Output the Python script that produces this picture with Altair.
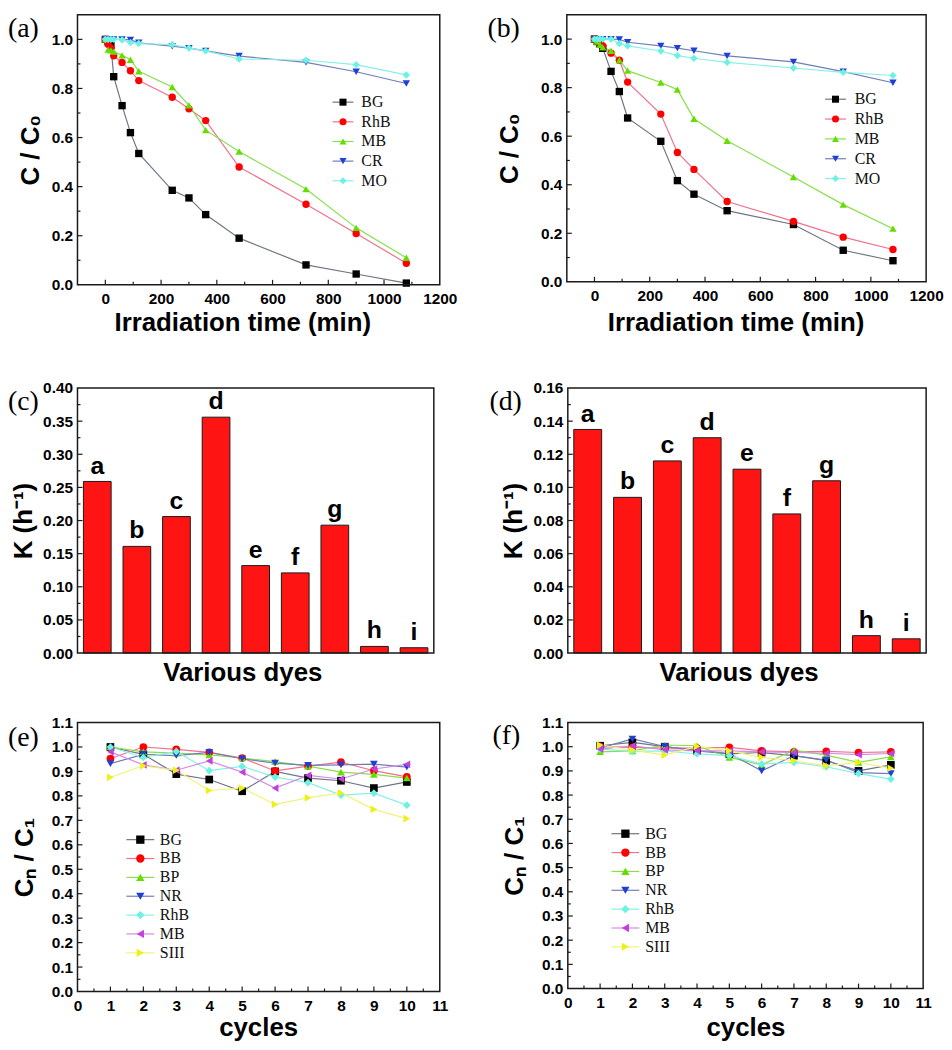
import altair as alt
import pandas as pd

SANS = "Liberation Sans, Arial, Helvetica, sans-serif"
SERIF = "Liberation Serif, Times New Roman, serif"

# ---------------- data: panels (a) and (b) ----------------
time_min = [0, 10, 20, 30, 60, 90, 120, 240, 300, 360, 480, 720, 900, 1080]
dyes_ab = ["BG", "RhB", "MB", "CR", "MO"]

a_BG = [1.000, 0.990, 0.975, 0.848, 0.730, 0.620, 0.535, 0.385, 0.354, 0.286, 0.190, 0.081, 0.044, 0.007]
a_RhB = [1.000, 0.980, 0.965, 0.933, 0.906, 0.872, 0.832, 0.764, 0.717, 0.669, 0.480, 0.328, 0.209, 0.088]
a_MB = [1.000, 0.958, 0.955, 0.950, 0.935, 0.917, 0.870, 0.806, 0.731, 0.630, 0.543, 0.390, 0.232, 0.110]
a_CR = [1.000, 1.000, 1.000, 1.000, 1.000, 0.998, 0.986, 0.972, 0.964, 0.953, 0.932, 0.906, 0.868, 0.820]
a_MO = [1.000, 1.000, 1.000, 1.000, 0.998, 0.987, 0.983, 0.979, 0.965, 0.953, 0.920, 0.915, 0.897, 0.855]

b_BG = [1.000, 0.990, 0.980, 0.962, 0.867, 0.784, 0.675, 0.579, 0.417, 0.361, 0.293, 0.236, 0.130, 0.087]
b_RhB = [1.000, 0.995, 0.985, 0.972, 0.942, 0.913, 0.823, 0.691, 0.533, 0.463, 0.331, 0.249, 0.184, 0.133]
b_MB = [1.000, 0.990, 0.976, 0.966, 0.952, 0.913, 0.870, 0.821, 0.792, 0.672, 0.581, 0.432, 0.318, 0.219]
b_CR = [1.000, 1.000, 1.000, 1.000, 1.000, 0.999, 0.987, 0.972, 0.963, 0.952, 0.931, 0.906, 0.866, 0.820]
b_MO = [1.000, 1.000, 1.000, 1.000, 1.000, 0.982, 0.972, 0.951, 0.932, 0.921, 0.904, 0.881, 0.863, 0.850]

# ---------------- data: panels (c) and (d) ----------------
bar_letters = ["a", "b", "c", "d", "e", "f", "g", "h", "i"]
k_c = [0.259, 0.161, 0.206, 0.356, 0.132, 0.121, 0.193, 0.010, 0.008]
k_d = [0.135, 0.094, 0.116, 0.130, 0.111, 0.084, 0.104, 0.0105, 0.0086]

# ---------------- data: panels (e) and (f) ----------------
cycles = [1, 2, 3, 4, 5, 6, 7, 8, 9, 10]
dyes_ef = ["BG", "BB", "BP", "NR", "RhB", "MB", "SIII"]

e_BG = [1.000, 0.970, 0.889, 0.867, 0.819, 0.900, 0.873, 0.862, 0.832, 0.857]
e_BB = [0.953, 1.000, 0.990, 0.978, 0.955, 0.902, 0.922, 0.938, 0.903, 0.878]
e_BP = [1.000, 0.980, 0.975, 0.968, 0.955, 0.940, 0.922, 0.897, 0.888, 0.873]
e_NR = [0.932, 0.970, 0.965, 0.978, 0.952, 0.934, 0.925, 0.927, 0.930, 0.918]
e_RhB = [1.000, 0.957, 0.982, 0.903, 0.921, 0.877, 0.854, 0.803, 0.811, 0.762]
e_MB = [0.980, 0.927, 0.905, 0.943, 0.897, 0.832, 0.884, 0.869, 0.910, 0.929]
e_SIII = [0.876, 0.923, 0.905, 0.822, 0.832, 0.765, 0.792, 0.812, 0.745, 0.707]

f_BG = [1.004, 1.018, 1.000, 0.983, 0.970, 0.976, 0.963, 0.942, 0.900, 0.925]
f_BB = [1.000, 0.997, 0.994, 0.994, 0.997, 0.983, 0.979, 0.981, 0.976, 0.979]
f_BP = [0.979, 0.983, 1.007, 1.004, 0.956, 0.925, 0.986, 0.965, 0.935, 0.958]
f_NR = [0.994, 1.032, 1.001, 0.986, 0.972, 0.900, 0.963, 0.945, 0.893, 0.889]
f_RhB = [0.990, 0.981, 0.983, 0.970, 0.963, 0.928, 0.935, 0.917, 0.889, 0.866]
f_MB = [0.990, 1.004, 0.987, 0.983, 0.983, 0.979, 0.976, 0.973, 0.967, 0.972]
f_SIII = [1.007, 0.986, 0.965, 1.001, 0.983, 0.956, 0.942, 0.921, 0.935, 0.911]

# ---------------- tick labels / tick positions ----------------
x_time_labels = [0, 200, 400, 600, 800, 1000, 1200]
x_time_major = [0, 200, 400, 600, 800, 1000]
x_time_minor = [100, 300, 500, 700, 900, 1100]
y_ab_labels = [0.0, 0.2, 0.4, 0.6, 0.8, 1.0]
y_ab_major = [0.2, 0.4, 0.6, 0.8, 1.0]
y_ab_minor = [0.1, 0.3, 0.5, 0.7, 0.9]
y_c_labels = [0.0, 0.05, 0.10, 0.15, 0.20, 0.25, 0.30, 0.35, 0.40]
y_c_major = [0.05, 0.10, 0.15, 0.20, 0.25, 0.30, 0.35]
y_c_minor = [0.025, 0.075, 0.125, 0.175, 0.225, 0.275, 0.325, 0.375]
y_d_labels = [0.0, 0.02, 0.04, 0.06, 0.08, 0.10, 0.12, 0.14, 0.16]
y_d_major = [0.02, 0.04, 0.06, 0.08, 0.10, 0.12, 0.14]
y_d_minor = [0.01, 0.03, 0.05, 0.07, 0.09, 0.11, 0.13, 0.15]
x_cyc_labels = [0, 1, 2, 3, 4, 5, 6, 7, 8, 9, 10, 11]
x_cyc_major = [1, 2, 3, 4, 5, 6, 7, 8, 9, 10]
x_cyc_minor = [0.5, 1.5, 2.5, 3.5, 4.5, 5.5, 6.5, 7.5, 8.5, 9.5, 10.5]
y_ef_labels = [0.0, 0.1, 0.2, 0.3, 0.4, 0.5, 0.6, 0.7, 0.8, 0.9, 1.0, 1.1]
y_ef_major = [0.1, 0.2, 0.3, 0.4, 0.5, 0.6, 0.7, 0.8, 0.9, 1.0]
y_ef_minor = [0.05, 0.15, 0.25, 0.35, 0.45, 0.55, 0.65, 0.75, 0.85, 0.95, 1.05]

# ---------------- styles ----------------
ab_shapes = ["square", "circle", "triangle-up", "triangle-down", "diamond"]
ab_marker = ["#000000", "#ff0000", "#66dd00", "#1f3fd6", "#6cf2e2"]
ab_line = ["#6f7585", "#f2708c", "#86e04a", "#6f7fb8", "#86f0e8"]
ef_shapes = ["square", "circle", "triangle-up", "triangle-down", "diamond", "triangle-left", "triangle-right"]
ef_marker = ["#000000", "#ff0000", "#66dd00", "#1f3fd6", "#6cf2e2", "#c23fe0", "#eef01a"]
ef_line = ["#6f7585", "#f2708c", "#86e04a", "#6f7fb8", "#86f0e8", "#d58ae6", "#f2f278"]
INK = "#1a1a1a"
FRAME_W = 1.5
MAJOR_T = 5
MINOR_T = 3
TICK_W = 1.2
TITLE_FS = 26

# decoration (ticks / frame) colour goes through its own one-entry colour scale
ink_color = alt.Color("k:N", scale=alt.Scale(domain=["ink"], range=[INK]), legend=None)


def deco_df(vals):
    return pd.DataFrame({"p": vals, "k": ["ink"] * len(vals)})


def xtick_layer(vals, xs, H, length):
    # inward tick: stroked path glyph going up from the bottom edge
    return alt.Chart(deco_df(vals)).mark_point(
        shape="M0,0V-1", size=(2 * length) ** 2, filled=False, strokeWidth=TICK_W, opacity=1
    ).encode(x=alt.X("p:Q", scale=xs, axis=None), y=alt.value(H), color=ink_color)


def ytick_layer(vals, ys, length):
    # inward tick: stroked path glyph going right from the left edge
    return alt.Chart(deco_df(vals)).mark_point(
        shape="M0,0H1", size=(2 * length) ** 2, filled=False, strokeWidth=TICK_W, opacity=1
    ).encode(y=alt.Y("p:Q", scale=ys, axis=None), x=alt.value(0), color=ink_color)


def frame_layer(W, H):
    # plot frame: one path glyph of unit scale (size 4 -> scale factor 1), anchored at the bottom-left corner
    return alt.Chart(pd.DataFrame({"k": ["ink"]})).mark_point(
        shape=f"M0,0V{-H}H{W}V0Z", size=4, filled=False, strokeWidth=FRAME_W, opacity=1
    ).encode(x=alt.value(0), y=alt.value(H), color=ink_color)


def tag_layer(tag, tx, ty):
    return alt.Chart(pd.DataFrame({"tag": [tag]})).mark_text(
        align="left", baseline="top", font=SERIF, fontSize=28, color="#000"
    ).encode(x=alt.value(tx), y=alt.value(ty), text="tag:N")


def line_panel(xvals, series, lists, shapes, mcol, lcol, W, H, xdom, xlab, xmaj, xmin, xfmt,
               ydom, ylab, ymaj, ymin, yfmt, xtitle, ytitle, xtx, xty, ytx,
               leg_cx, leg_half, leg_tx, leg_y0, leg_step, leg_msize, tag, tagx, tagy, psize):
    rows = []
    for s, vals in zip(series, lists):
        for xv, v in zip(xvals, vals):
            rows.append({"x": xv, "v": v, "s": s})
    df = pd.DataFrame(rows)
    xs = alt.Scale(domain=xdom, nice=False, zero=False)
    ys = alt.Scale(domain=ydom, nice=False, zero=False)
    fill_scale = alt.Scale(domain=series, range=mcol)
    stroke_scale = alt.Scale(domain=series, range=lcol)
    shape_scale = alt.Scale(domain=series, range=shapes)

    x_lab_axis = alt.Axis(orient="bottom", values=xlab, format=xfmt, ticks=False, domain=False,
                          grid=False, labelPadding=7, labelFlush=False, labelOverlap=False,
                          title=xtitle, titleX=xtx, titleY=xty, titleBaseline="middle")
    y_lab_axis = alt.Axis(orient="left", values=ylab, format=yfmt, ticks=False, domain=False,
                          grid=False, labelPadding=5, labelOverlap=False,
                          title=ytitle, titleX=ytx, titleBaseline="middle")

    base = alt.Chart(df)
    lines = base.mark_line(strokeWidth=1.2).encode(
        x=alt.X("x:Q", scale=xs, axis=x_lab_axis),
        y=alt.Y("v:Q", scale=ys, axis=y_lab_axis),
        stroke=alt.Stroke("s:N", scale=stroke_scale, legend=None),
    )
    points = base.mark_point(filled=True, size=psize, opacity=1, strokeWidth=0).encode(
        x=alt.X("x:Q", scale=xs, axis=None),
        y=alt.Y("v:Q", scale=ys, axis=None),
        fill=alt.Fill("s:N", scale=fill_scale, legend=None),
        shape=alt.Shape("s:N", scale=shape_scale, legend=None),
    )

    # legend drawn with marks: rows placed by a point scale on the series names
    leg_df = pd.DataFrame({"s": series})
    ly = alt.Y("s:N", scale=alt.Scale(type="point", domain=series,
                                      range=[leg_y0, leg_y0 + leg_step * (len(series) - 1)], padding=0),
               axis=None)
    leg_line = alt.Chart(leg_df).mark_point(
        shape="M-1,0H1", size=(2 * leg_half) ** 2, filled=False, strokeWidth=1.2, opacity=1
    ).encode(x=alt.value(leg_cx), y=ly, stroke=alt.Stroke("s:N", scale=stroke_scale, legend=None))
    leg_mark = alt.Chart(leg_df).mark_point(filled=True, size=leg_msize, opacity=1, strokeWidth=0).encode(
        x=alt.value(leg_cx), y=ly,
        fill=alt.Fill("s:N", scale=fill_scale, legend=None),
        shape=alt.Shape("s:N", scale=shape_scale, legend=None),
    )
    leg_text = alt.Chart(leg_df).mark_text(
        align="left", baseline="middle", font=SERIF, fontSize=16, color="#111"
    ).encode(x=alt.value(leg_tx), y=ly, text="s:N")

    layers = [lines, points,
              xtick_layer(xmaj, xs, H, MAJOR_T), xtick_layer(xmin, xs, H, MINOR_T),
              ytick_layer(ymaj, ys, MAJOR_T), ytick_layer(ymin, ys, MINOR_T),
              frame_layer(W, H), leg_line, leg_mark, leg_text, tag_layer(tag, tagx, tagy)]
    return alt.layer(*layers).resolve_scale(y="independent").resolve_axis(
        x="independent", y="independent"
    ).properties(width=W, height=H)


def bar_panel(vals, W, H, ymax, ylab, ymaj, ymin, xtx, xty, ytx, tag, tagx, tagy):
    df = pd.DataFrame({"dye": bar_letters, "k": vals})
    xsc = alt.Scale(paddingInner=0.3, paddingOuter=0.15)
    ys = alt.Scale(domain=[0, ymax], nice=False, zero=True)
    base = alt.Chart(df)
    bars = base.mark_bar(fill="#ff1414", stroke=INK, strokeWidth=1).encode(
        x=alt.X("dye:N", sort=bar_letters, scale=xsc,
                axis=alt.Axis(labels=False, ticks=False, domain=False, grid=False, title="Various dyes",
                              titleX=xtx, titleY=xty, titleBaseline="middle")),
        y=alt.Y("k:Q", scale=ys,
                axis=alt.Axis(orient="left", values=ylab, format=".2f", ticks=False, domain=False,
                              grid=False, labelPadding=5, labelOverlap=False,
                              title="K (h⁻¹)", titleX=ytx, titleBaseline="middle")),
    )
    letters = base.mark_text(
        baseline="bottom", dy=-3, font=SANS, fontWeight="bold", fontSize=25, color="#000"
    ).encode(
        x=alt.X("dye:N", sort=bar_letters, scale=xsc, axis=None),
        y=alt.Y("k:Q", scale=ys, axis=None),
        text="dye:N",
    )
    return alt.layer(
        bars, letters, ytick_layer(ymaj, ys, MAJOR_T), ytick_layer(ymin, ys, MINOR_T),
        frame_layer(W, H), tag_layer(tag, tagx, tagy)
    ).resolve_axis(x="independent", y="independent").properties(width=W, height=H)


pa = line_panel(time_min, dyes_ab, [a_BG, a_RhB, a_MB, a_CR, a_MO], ab_shapes, ab_marker, ab_line,
                365, 272, [-100, 1200], x_time_labels, x_time_major, x_time_minor, "d",
                [0, 1.1], y_ab_labels, y_ab_major, y_ab_minor, ".1f",
                "Irradiation time (min)", "C / C₀", 166, 38, -47,
                267.5, 10.5, 286, 88, 19.8, 50, "(a)", -70, 0, 55)
pb = line_panel(time_min, dyes_ab, [b_BG, b_RhB, b_MB, b_CR, b_MO], ab_shapes, ab_marker, ab_line,
                362, 269, [-100, 1200], x_time_labels, x_time_major, x_time_minor, "d",
                [0, 1.1], y_ab_labels, y_ab_major, y_ab_minor, ".1f",
                "Irradiation time (min)", "C / C₀", 170, 41, -58,
                270.7, 10.5, 290, 85, 20, 50, "(b)", -80, 0, 55)
pc = bar_panel(k_c, 359, 267, 0.40, y_c_labels, y_c_major, y_c_minor, 166, 20, -54, "(c)", -70, 0)
pd_ = bar_panel(k_d, 361, 267, 0.16, y_d_labels, y_d_major, y_d_minor, 172, 20, -55, "(d)", -79, 0)
pe = line_panel(cycles, dyes_ef, [e_BG, e_BB, e_BP, e_NR, e_RhB, e_MB, e_SIII], ef_shapes, ef_marker, ef_line,
                365, 271, [0, 11], x_cyc_labels, x_cyc_major, x_cyc_minor, "d",
                [0, 1.1], y_ef_labels, y_ef_major, y_ef_minor, ".1f",
                "cycles", "Cₙ / C₁", 182, 36, -53,
                63.3, 14, 83, 118, 19, 70, "(e)", -70, 2, 60)
pf = line_panel(cycles, dyes_ef, [f_BG, f_BB, f_BP, f_NR, f_RhB, f_MB, f_SIII], ef_shapes, ef_marker, ef_line,
                358, 268, [0, 11], x_cyc_labels, x_cyc_major, x_cyc_minor, "d",
                [0, 1.1], y_ef_labels, y_ef_major, y_ef_minor, ".1f",
                "cycles", "Cₙ / C₁", 179, 39, -54,
                58, 14, 78, 112, 19, 70, "(f)", -76, 0, 60)

IND = dict(fill="independent", stroke="independent", shape="independent")
row1 = alt.hconcat(pa, pb, spacing=128, bounds="flush").resolve_scale(**IND)
row2 = alt.hconcat(pc, pd_, spacing=135, bounds="flush")
row3 = alt.hconcat(pe, pf, spacing=129, bounds="flush").resolve_scale(**IND)

chart = alt.vconcat(
    row1, alt.vconcat(row2, row3, spacing=30).resolve_scale(**IND), spacing=46
).resolve_scale(**IND).properties(
    padding=0, background="white"
).configure_view(
    strokeWidth=0
).configure_axis(
    labelFont=SANS, labelFontWeight="bold", labelFontSize=15.5, labelColor="#000",
    titleFont=SANS, titleFontWeight="bold", titleFontSize=TITLE_FS, titleColor="#000",
    grid=False,
)

chart.save("out.html", embed_options={"renderer": "svg", "actions": False})
